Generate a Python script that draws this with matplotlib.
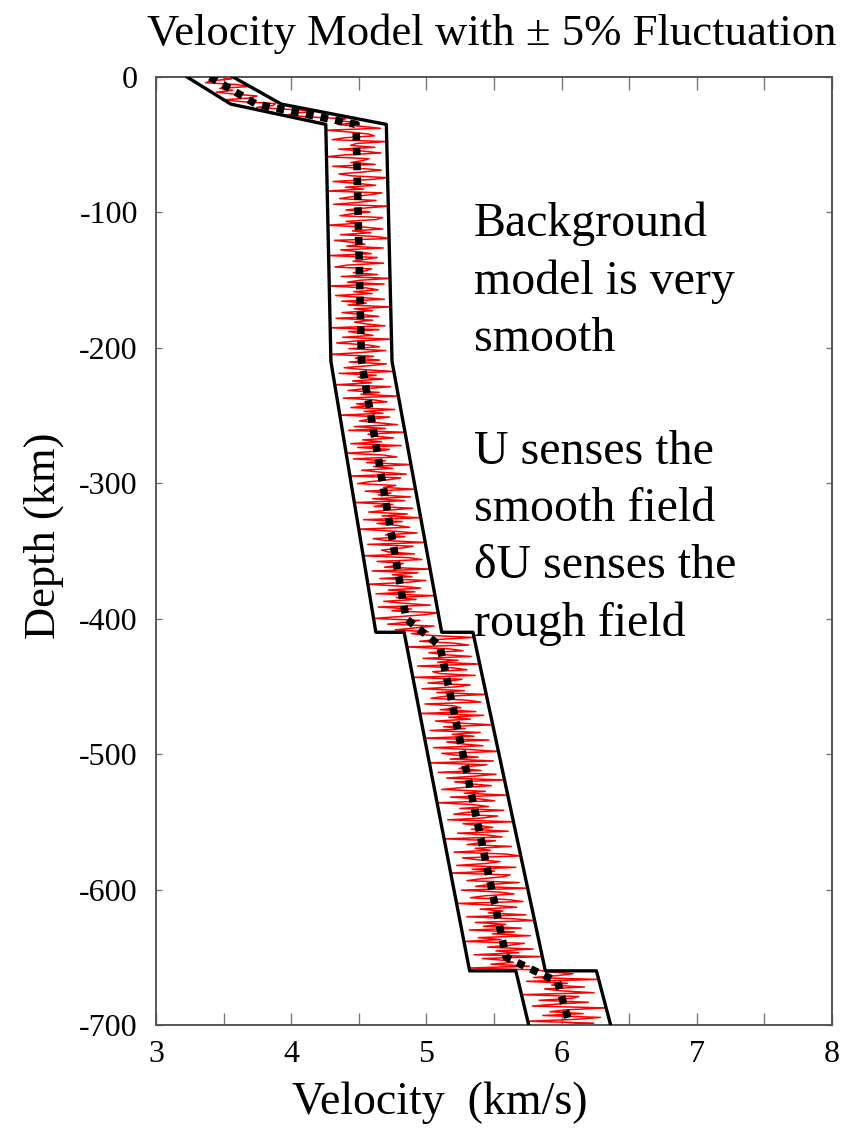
import numpy as np
import matplotlib
matplotlib.use("Agg")
import matplotlib.pyplot as plt
from matplotlib.ticker import MultipleLocator

# layered background model (duplicated depths = discontinuities)
layer_depth = [0, 20, 35, 210, 410, 410, 660, 660, 700]
layer_vel = [3.40, 3.74, 4.48, 4.52, 4.87, 5.09, 5.60, 5.96, 6.06]

# smooth background model drawn as the dotted line
smooth_depth = [0, 20, 35, 210, 400, 420, 650, 668, 700]
smooth_vel = [3.40, 3.74, 4.48, 4.52, 4.85, 5.10, 5.59, 5.97, 6.06]

# perturbation in percent, evenly spaced in depth from the surface down
pert = [
    2, 4, -1, -3, 3, 5, -2, 0, -4, -1, 3, 1, -5, -2, 4, 2, -3, 1, 5, -1, -4, -2, 3, 0, 2,
    -3, 1, 4, -5, -1, 2, 3, -2, -4, 5, 0, -1, 3, -3, 1, 4, -2, -5, 2, 1, -1, 3, -4, 0, 4,
    1, -3, -1, 5, 2, -4, 0, 3, -2, 1, -5, 4, 2, -1, -3, 3, 0, -4, 5, 1, -2, 2, -1, -3, 4,
    3, -2, 0, -5, 1, 4, -1, 2, -3, 3, 5, -4, -1, 1, -2, 4, -3, 0, 2, -5, 3, 1, -1, 4, -2,
    -4, 2, 1, -1, 3, -3, 5, 0, -2, 4, -5, 1, 3, -1, 2, -4, 0, 4, -3, 1, -2, 5, -1, 2, -3,
    0, 3, -4, 2, -1, 1, 4, -5, 3, -2, 0, 2, -3, 5, -1, -4, 1, 3, -2, 4, 0, -5, 2, -1, 3,
    -2, 4, 1, -3, 0, 5, -4, 2, -1, 3, -2, 1, -5, 4, 0, -3, 2, -1, 5, -4, 1, 3, -2, 0, -3,
    4, -1, 2, -5, 3, 0, -2, 1, 4, -3, 2, -4, 5, -1, 0, 3, -2, 1, -4, 4, -3, 2, 0, -5, 1,
    3, -4, 1, -2, 5, -1, 2, -3, 0, 4, -5, 3, 1, -2, -4, 2, 0, 5, -3, 1, -1, 4, -2, 3, -5,
    1, -2, 4, 0, -3, 3, -1, 5, -4, 2, -2, 1, 3, -5, 0, 4, -1, 2, -3, -1, 5, -4, 3, 1, -2,
    -1, 3, -5, 2, 4, -3, 1, 0, -2, 5, -4, 3, -1, 2, -3, 4, 1, -5, 0, 3, -2, 2, -4, 5, -1,
    2, -3, 0, 4, -4, 1, -2, 5, 3, -1, -5, 2, 0, -3, 4, 1, -2, 3, -4, -1, 5, 0, -3, 2, 4,
    -5, 1, 3, -2, 0, 4, -3, 2, -1, 5, -4, 1, 3, -2, -1, 4, -5, 2, 0, -3, 3, 1, -4, 2, -2,
    5, -1, -3, 2, 4, -4, 0, 1, -2, 3, -5, 4, -1, 2, -3, 0, 5, -2, 1, -4, 3, -1, 2, -5, 4,
    -2, 0, 3, -4, 1, 5, -3, -1, 2, -2, 4, -5, 3, 0, -1, 2, -4, 4, 1, -3, 5, -2, 0, 3, -1,
    -4, 2, -1, 5, -3, 1, 3, -5, 0, 2, -2, 4, -1, -3, 3, 1, -4, 5, -2, 0, 2, -1, 4, -3, 1,
    3, -5, 2, 0, -2, 4, -1, 1, -4, 3, 5, -3, -1, 2, 0, -4, 4, -2, 1, -5, 3, 2, -1, -3, 4,
    0, -2, 5, -4, 1, 3, -1, -3, 2, 4, -5, 0, 3, -2, 1, -1, 4, -4, 2, 5, -3, 1, -2, 3, -4,
    2, -1, 4, -3, 0, -5, 3, 1, -2, 4, -1, 2, -4, 5, -3, 0, 1, -2, 3, -5, 4, -1, 2, 0, -3,
    5, -4, 1, -1, 3, -2, 0, 4, -5, 2, 1, -3, 3, -1, -4, 5, 0, -2, 2, -3, 4, 1, -5, 3, -1,
]

plt.rcParams["font.family"] = ["Liberation Serif", "DejaVu Serif"]
plt.rcParams["axes.unicode_minus"] = False

layer_depth = np.array(layer_depth, dtype=float)
layer_vel = np.array(layer_vel)
pert = np.array(pert, dtype=float)

pert_depth = np.linspace(0, 700, len(pert))
pert_vel = np.interp(pert_depth, layer_depth, layer_vel) * (1 + pert / 100)

fig = plt.figure(figsize=(8.65, 11.34), dpi=100)
ax = fig.add_axes([0.1803, 0.0961, 0.7815, 0.8360])

ax.plot(pert_vel, -pert_depth, color="red", lw=1.1, zorder=2)
ax.plot(layer_vel * 0.95, -layer_depth, color="black", lw=2.4, zorder=3)
ax.plot(layer_vel * 1.05, -layer_depth, color="black", lw=2.4, zorder=3)
ax.plot(smooth_vel, -np.array(smooth_depth), color="black", lw=5.5,
        dashes=(1, 0.95), dash_capstyle="butt", zorder=4)

ax.set_xlim(3, 8)
ax.set_ylim(-700, 0)
ax.xaxis.set_major_locator(MultipleLocator(1))
ax.xaxis.set_minor_locator(MultipleLocator(0.5))
ax.yaxis.set_major_locator(MultipleLocator(100))

for s in ax.spines.values():
    s.set_color("#555555")
    s.set_linewidth(1.4)

ax.tick_params(axis="x", which="both", direction="in", top=True, length=9,
               width=1, color="#777777", labelsize=23, pad=11)
ax.tick_params(axis="y", which="both", direction="in", right=True, length=4,
               width=1, color="#777777", labelsize=23, pad=13)

ax.set_xlabel("Velocity  (km/s)", fontsize=33)
ax.xaxis.set_label_coords(0.42, -0.06)
ax.set_ylabel("Depth (km)", fontsize=32)
ax.yaxis.set_label_coords(-0.136, 0.516)

fig.text(0.568, 1 - 45 / 1134, "Velocity Model with \u00b1 5% Fluctuation",
         fontsize=32.2, ha="center", va="baseline")

ax.text(5.35, -92, "Background\nmodel is very\nsmooth\n\nU senses the\n"
        "smooth field\n\u03b4U senses the\nrough field",
        fontsize=34.5, ha="left", va="top", linespacing=1.38, zorder=5)

fig.savefig("out.png", dpi=100)
